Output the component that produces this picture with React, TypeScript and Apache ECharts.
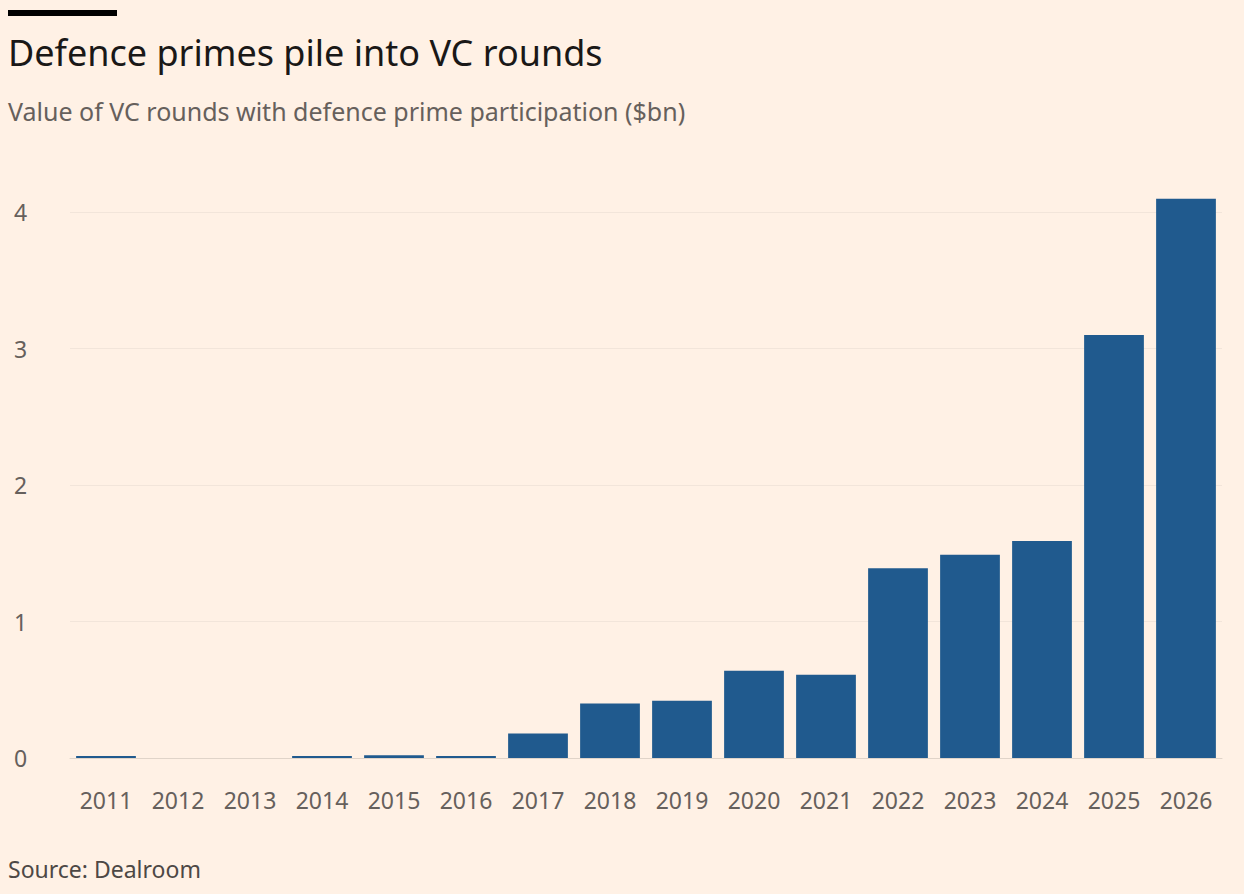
import React, { useEffect, useRef } from "react";
import * as echarts from "echarts";

const years = ["2011","2012","2013","2014","2015","2016","2017","2018","2019","2020","2021","2022","2023","2024","2025","2026"];
const values = [0.015, 0, 0, 0.015, 0.02, 0.015, 0.18, 0.4, 0.42, 0.64, 0.61, 1.39, 1.49, 1.59, 3.1, 4.1];
const title = "Defence primes pile into VC rounds";
const subtitle = "Value of VC rounds with defence prime participation ($bn)";
const source = "Source: Dealroom";

export default function App() {
  const ref = useRef<HTMLDivElement>(null);
  useEffect(() => {
    document.body.style.margin = "0";
    document.body.style.background = "#FFF1E5";
    const chart = echarts.init(ref.current!, null, { renderer: "svg" });
    const font = "Noto Sans";
    chart.setOption({
      animation: false,
      backgroundColor: "#FFF1E5",
      textStyle: { fontFamily: font },
      graphic: [
        { type: "rect", shape: { x: 8, y: 10, width: 109, height: 6 }, style: { fill: "#000" } },
        { type: "text", x: 8, y: 34, style: { text: title, fontSize: 36, fill: "#1a1817", fontFamily: font } },
        { type: "text", x: 8, y: 98, style: { text: subtitle, fontSize: 25, fill: "#66605c", fontFamily: font } },
        { type: "text", x: 8, y: 857, style: { text: source, fontSize: 23, fill: "#4d4845", fontFamily: font } },
      ],
      grid: { left: 70, right: 22, top: 185, bottom: 136 },
      xAxis: {
        type: "category",
        data: years,
        axisTick: { show: false },
        axisLine: { show: true, lineStyle: { color: "#e0d4c9" } },
        axisLabel: { fontSize: 23, color: "#66605c", margin: 30, fontFamily: font },
      },
      yAxis: {
        type: "value",
        min: 0,
        max: 4.2,
        interval: 1,
        axisLabel: { fontSize: 23, color: "#66605c", margin: 56, align: "left", showMaxLabel: false, fontFamily: font },
        splitLine: { showMaxLine: false, lineStyle: { color: "#f2e5da" } },
        axisLine: { show: false },
        axisTick: { show: false },
      },
      series: [
        {
          type: "bar",
          data: values,
          barCategoryGap: "17%",
          itemStyle: { color: "#205a8e" },
        },
      ],
    });
    return () => chart.dispose();
  }, []);
  return <div ref={ref} style={{ width: 1244, height: 894 }} />;
}
